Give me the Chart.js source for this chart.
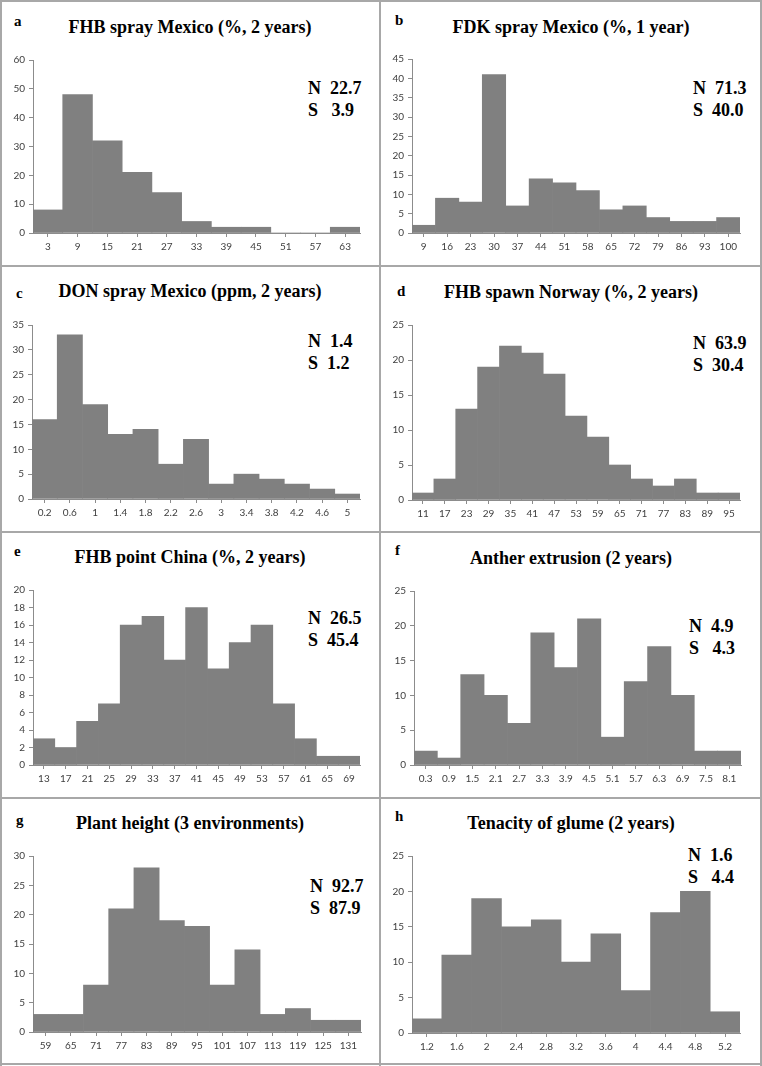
<!DOCTYPE html>
<html>
<head>
<meta charset="utf-8">
<script src="https://cdn.jsdelivr.net/npm/chart.js@4"></script>
<style>
html,body{margin:0;padding:0;background:#fff;}
#page{position:relative;width:762px;height:1066px;overflow:hidden;background:#fff;}
.cv{position:absolute;}
.title{position:absolute;width:380px;text-align:center;font:bold 18px "Liberation Serif","Times New Roman",serif;color:#000;line-height:22px;white-space:nowrap;}
.letter{position:absolute;font:bold 15px "Liberation Serif","Times New Roman",serif;color:#000;line-height:18px;}
.ns{position:absolute;font:bold 18px "Liberation Serif","Times New Roman",serif;color:#000;line-height:22px;white-space:pre;}
.hl{position:absolute;height:2px;background:#a8a8a8;}
.vl{position:absolute;width:2px;background:#a8a8a8;}
</style>
</head>
<body>
<div id="page"></div>
<script>
// ---- data ----
const labelsA = ['3','9','15','21','27','33','39','45','51','57','63'];
const valuesA = [8,48,32,21,14,4,2,2,0,0,2];

const labelsB = ['9','16','23','30','37','44','51','58','65','72','79','86','93','100'];
const valuesB = [2,9,8,41,7,14,13,11,6,7,4,3,3,4];

const labelsC = ['0.2','0.6','1','1.4','1.8','2.2','2.6','3','3.4','3.8','4.2','4.6','5'];
const valuesC = [16,33,19,13,14,7,12,3,5,4,3,2,1];

const labelsD = ['11','17','23','29','35','41','47','53','59','65','71','77','83','89','95'];
const valuesD = [1,3,13,19,22,21,18,12,9,5,3,2,3,1,1];

const labelsE = ['13','17','21','25','29','33','37','41','45','49','53','57','61','65','69'];
const valuesE = [3,2,5,7,16,17,12,18,11,14,16,7,3,1,1];

const labelsF = ['0.3','0.9','1.5','2.1','2.7','3.3','3.9','4.5','5.1','5.7','6.3','6.9','7.5','8.1'];
const valuesF = [2,1,13,10,6,19,14,21,4,12,17,10,2,2];

const labelsG = ['59','65','71','77','83','89','95','101','107','113','119','125','131'];
const valuesG = [3,3,8,21,28,19,18,8,14,3,4,2,2];

const labelsH = ['1.2','1.6','2','2.4','2.8','3.2','3.6','4','4.4','4.8','5.2'];
const valuesH = [2,11,19,15,16,10,14,6,17,20,3];

const panelLetters = ['a','b','c','d','e','f','g','h'];
const panelTitles = ['FHB spray Mexico (%, 2 years)','FDK spray Mexico (%, 1 year)','DON spray Mexico (ppm, 2 years)','FHB spawn Norway (%, 2 years)','FHB point China (%, 2 years)','Anther extrusion (2 years)','Plant height (3 environments)','Tenacity of glume (2 years)'];
const nValues = ['22.7','71.3','1.4','63.9','26.5','4.9','92.7','1.6'];
const sValues = ['3.9','40.0','1.2','30.4','45.4','4.3','87.9','4.4'];
const yMax = [60,45,35,25,20,25,30,25];
const yStep = [10,5,5,5,2,5,5,5];

// ---- layout ----
const allLabels = [labelsA,labelsB,labelsC,labelsD,labelsE,labelsF,labelsG,labelsH];
const allValues = [valuesA,valuesB,valuesC,valuesD,valuesE,valuesF,valuesG,valuesH];
const origins = [[0,0],[381,0],[0,268],[381,268],[0,533],[381,533],[0,798],[381,798]];
const area = [ // left, top, right, bottom relative to origin
  [33,60,360,233],[31,59,359,233],[32,57,360,231],[31,57,359,232],
  [33,57,360,232],[33,58,360,232],[33,58,361,234],[31,58,359,235]];
const titleY = [27,27,23,24,24,25,25,25];
const letterPos = [[18,21],[18,20],[20,25],[20,23],[18,18],[18,17],[20,22],[18,18]];
const nsPos = [[308,88],[312,88],[308,73],[312,75],[308,85],[308,93],[310,88],[307,57]];
const nsPad = [['  ','   '],['  ','  '],['  ','  '],['  ','  '],['  ','  '],['  ','   '],['  ','  '],['  ','   ']];

const page = document.getElementById('page');
function add(cls, css, text){
  const d=document.createElement('div'); d.className=cls; Object.assign(d.style,css);
  if(text!==undefined) d.textContent=text; page.appendChild(d); return d;
}
// borders
add('hl',{left:'0px',top:'0px',width:'762px'});
add('hl',{left:'0px',top:'265px',width:'762px'});
add('hl',{left:'0px',top:'531px',width:'762px'});
add('hl',{left:'0px',top:'797px',width:'762px'});
add('hl',{left:'0px',top:'1063px',width:'762px'});
add('vl',{left:'0px',top:'0px',height:'1066px'});
add('vl',{left:'379px',top:'0px',height:'1066px'});
add('vl',{left:'760px',top:'0px',height:'1066px'});

const CW=380, CH=265;
const YW=26, XH=24;
for(let i=0;i<8;i++){
  const [ox,oy]=origins[i];
  const [l,t,r,b]=area[i];
  add('title',{left:ox+'px',top:(oy+titleY[i]-11)+'px'},panelTitles[i]);
  add('letter',{left:(ox+letterPos[i][0]-4)+'px',top:(oy+letterPos[i][1]-9)+'px'},panelLetters[i]);
  add('ns',{left:(ox+nsPos[i][0])+'px',top:(oy+nsPos[i][1]-11)+'px'},'N'+nsPad[i][0]+nValues[i]+'\nS'+nsPad[i][1]+sValues[i]);

  const c=document.createElement('canvas');
  c.className='cv'; c.width=CW; c.height=CH;
  c.style.left=ox+'px'; c.style.top=oy+'px'; c.style.width=CW+'px'; c.style.height=CH+'px';
  page.appendChild(c);
  new Chart(c,{
    type:'bar',
    data:{labels:allLabels[i],datasets:[{data:allValues[i],backgroundColor:'#808080',borderWidth:0,categoryPercentage:1,barPercentage:1}]},
    options:{
      responsive:false,animation:false,
      layout:{padding:{left:l-YW,top:t,right:CW-r,bottom:CH-b-XH}},
      plugins:{legend:{display:false},tooltip:{enabled:false},title:{display:false}},
      scales:{
        x:{
          grid:{display:true,drawOnChartArea:false,drawTicks:true,tickLength:4,offset:false,color:'#8c8c8c'},
          border:{display:true,color:'#8c8c8c',width:1},
          ticks:{font:{family:'Lato, "Liberation Sans", sans-serif',size:10},color:'#404040',maxRotation:0,autoSkip:false,padding:4},
          afterFit:s=>{s.height=XH;}
        },
        y:{
          min:0,max:yMax[i],
          grid:{display:true,drawOnChartArea:false,drawTicks:true,tickLength:4,color:'#8c8c8c'},
          border:{display:true,color:'#8c8c8c',width:1},
          ticks:{stepSize:yStep[i],font:{family:'Lato, "Liberation Sans", sans-serif',size:10},color:'#404040',padding:4},
          afterFit:s=>{s.width=YW;}
        }
      }
    }
  });
}
</script>
</body>
</html>
